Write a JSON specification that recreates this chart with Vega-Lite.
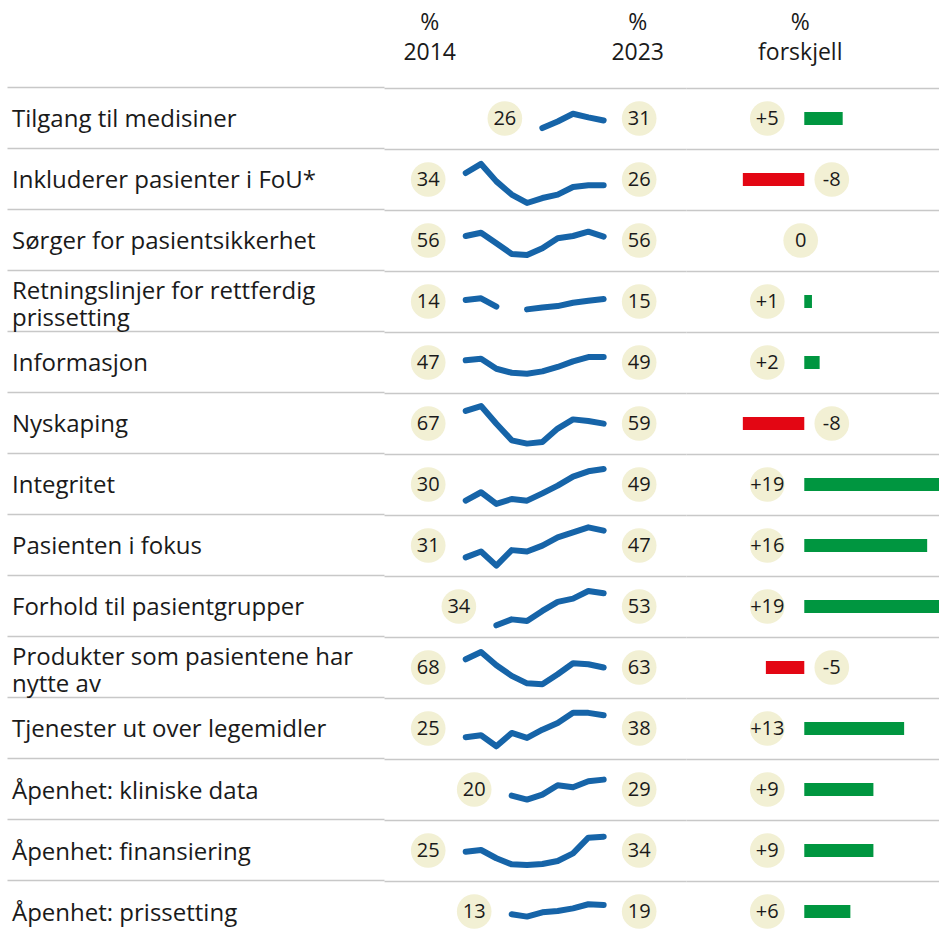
{
"$schema": "https://vega.github.io/schema/vega-lite/v6.json",
"background": "white",
"padding": {"left": 7, "right": 0, "top": 0, "bottom": 0},
"config": {"view": {"stroke": null}, "text": {"font": "Open Sans"}, "axis": {"minExtent": 0, "maxExtent": 0, "offset": 0}},
"datasets": {
"summary": [
{"id": 1, "label": "Tilgang til medisiner", "start": 2019, "v2014": 26, "v2023": 31, "diff": 5, "difflabel": "+5"},
{"id": 2, "label": "Inkluderer pasienter i FoU*", "start": 2014, "v2014": 34, "v2023": 26, "diff": -8, "difflabel": "-8"},
{"id": 3, "label": "Sørger for pasientsikkerhet", "start": 2014, "v2014": 56, "v2023": 56, "diff": 0, "difflabel": "0"},
{"id": 4, "label": "Retningslinjer for rettferdig\nprissetting", "start": 2014, "v2014": 14, "v2023": 15, "diff": 1, "difflabel": "+1"},
{"id": 5, "label": "Informasjon", "start": 2014, "v2014": 47, "v2023": 49, "diff": 2, "difflabel": "+2"},
{"id": 6, "label": "Nyskaping", "start": 2014, "v2014": 67, "v2023": 59, "diff": -8, "difflabel": "-8"},
{"id": 7, "label": "Integritet", "start": 2014, "v2014": 30, "v2023": 49, "diff": 19, "difflabel": "+19"},
{"id": 8, "label": "Pasienten i fokus", "start": 2014, "v2014": 31, "v2023": 47, "diff": 16, "difflabel": "+16"},
{"id": 9, "label": "Forhold til pasientgrupper", "start": 2016, "v2014": 34, "v2023": 53, "diff": 19, "difflabel": "+19"},
{"id": 10, "label": "Produkter som pasientene har\nnytte av", "start": 2014, "v2014": 68, "v2023": 63, "diff": -5, "difflabel": "-5"},
{"id": 11, "label": "Tjenester ut over legemidler", "start": 2014, "v2014": 25, "v2023": 38, "diff": 13, "difflabel": "+13"},
{"id": 12, "label": "Åpenhet: kliniske data", "start": 2017, "v2014": 20, "v2023": 29, "diff": 9, "difflabel": "+9"},
{"id": 13, "label": "Åpenhet: finansiering", "start": 2014, "v2014": 25, "v2023": 34, "diff": 9, "difflabel": "+9"},
{"id": 14, "label": "Åpenhet: prissetting", "start": 2017, "v2014": 13, "v2023": 19, "diff": 6, "difflabel": "+6"}
],
"spark": [
{"id":1,"year":2019,"value":26},{"id":1,"year":2020,"value":30},{"id":1,"year":2021,"value":34.7},{"id":1,"year":2022,"value":32.5},{"id":1,"year":2023,"value":30.6},
{"id":2,"year":2014,"value":34},{"id":2,"year":2015,"value":39.5},{"id":2,"year":2016,"value":28.9},{"id":2,"year":2017,"value":20.9},{"id":2,"year":2018,"value":15.8},{"id":2,"year":2019,"value":18.8},{"id":2,"year":2020,"value":20.9},{"id":2,"year":2021,"value":25.5},{"id":2,"year":2022,"value":26.5},{"id":2,"year":2023,"value":26.5},
{"id":3,"year":2014,"value":56},{"id":3,"year":2015,"value":58},{"id":3,"year":2016,"value":51.6},{"id":3,"year":2017,"value":45.1},{"id":3,"year":2018,"value":44.5},{"id":3,"year":2019,"value":48.5},{"id":3,"year":2020,"value":54.6},{"id":3,"year":2021,"value":56},{"id":3,"year":2022,"value":58.6},{"id":3,"year":2023,"value":55.6},
{"id":4,"year":2014,"value":14},{"id":4,"year":2015,"value":15},{"id":4,"year":2016,"value":10},{"id":4,"year":2017,"value":null},{"id":4,"year":2018,"value":8.3},{"id":4,"year":2019,"value":9.5},{"id":4,"year":2020,"value":10.3},{"id":4,"year":2021,"value":12.3},{"id":4,"year":2022,"value":13.5},{"id":4,"year":2023,"value":14.6},
{"id":5,"year":2014,"value":47},{"id":5,"year":2015,"value":48},{"id":5,"year":2016,"value":41.9},{"id":5,"year":2017,"value":39.5},{"id":5,"year":2018,"value":38.9},{"id":5,"year":2019,"value":40.3},{"id":5,"year":2020,"value":43},{"id":5,"year":2021,"value":46.4},{"id":5,"year":2022,"value":49},{"id":5,"year":2023,"value":49},
{"id":6,"year":2014,"value":67},{"id":6,"year":2015,"value":70},{"id":6,"year":2016,"value":59.3},{"id":6,"year":2017,"value":49.2},{"id":6,"year":2018,"value":47.2},{"id":6,"year":2019,"value":48.2},{"id":6,"year":2020,"value":56.3},{"id":6,"year":2021,"value":61.9},{"id":6,"year":2022,"value":60.9},{"id":6,"year":2023,"value":59.3},
{"id":7,"year":2014,"value":30},{"id":7,"year":2015,"value":35.1},{"id":7,"year":2016,"value":28},{"id":7,"year":2017,"value":31},{"id":7,"year":2018,"value":30},{"id":7,"year":2019,"value":34.4},{"id":7,"year":2020,"value":39.1},{"id":7,"year":2021,"value":44.6},{"id":7,"year":2022,"value":47.8},{"id":7,"year":2023,"value":49.2},
{"id":8,"year":2014,"value":31},{"id":8,"year":2015,"value":34.6},{"id":8,"year":2016,"value":26},{"id":8,"year":2017,"value":35.4},{"id":8,"year":2018,"value":34.6},{"id":8,"year":2019,"value":38.1},{"id":8,"year":2020,"value":43.1},{"id":8,"year":2021,"value":46.2},{"id":8,"year":2022,"value":49.2},{"id":8,"year":2023,"value":47.2},
{"id":9,"year":2016,"value":34},{"id":9,"year":2017,"value":37.6},{"id":9,"year":2018,"value":36.6},{"id":9,"year":2019,"value":42.7},{"id":9,"year":2020,"value":48.2},{"id":9,"year":2021,"value":50.2},{"id":9,"year":2022,"value":54.8},{"id":9,"year":2023,"value":53.4},
{"id":10,"year":2014,"value":68},{"id":10,"year":2015,"value":72.4},{"id":10,"year":2016,"value":64.4},{"id":10,"year":2017,"value":57.9},{"id":10,"year":2018,"value":53.4},{"id":10,"year":2019,"value":52.8},{"id":10,"year":2020,"value":58.9},{"id":10,"year":2021,"value":65.6},{"id":10,"year":2022,"value":65},{"id":10,"year":2023,"value":63},
{"id":11,"year":2014,"value":25},{"id":11,"year":2015,"value":26.2},{"id":11,"year":2016,"value":19.5},{"id":11,"year":2017,"value":27.6},{"id":11,"year":2018,"value":24.6},{"id":11,"year":2019,"value":29.6},{"id":11,"year":2020,"value":33.7},{"id":11,"year":2021,"value":39.8},{"id":11,"year":2022,"value":39.8},{"id":11,"year":2023,"value":38.3},
{"id":12,"year":2017,"value":20},{"id":12,"year":2018,"value":17.6},{"id":12,"year":2019,"value":20.6},{"id":12,"year":2020,"value":26.3},{"id":12,"year":2021,"value":25.1},{"id":12,"year":2022,"value":28.7},{"id":12,"year":2023,"value":29.7},
{"id":13,"year":2014,"value":25},{"id":13,"year":2015,"value":26},{"id":13,"year":2016,"value":21},{"id":13,"year":2017,"value":17.3},{"id":13,"year":2018,"value":16.9},{"id":13,"year":2019,"value":17.5},{"id":13,"year":2020,"value":19.3},{"id":13,"year":2021,"value":24},{"id":13,"year":2022,"value":33.5},{"id":13,"year":2023,"value":34.1},
{"id":14,"year":2017,"value":13},{"id":14,"year":2018,"value":11.6},{"id":14,"year":2019,"value":14.2},{"id":14,"year":2020,"value":15},{"id":14,"year":2021,"value":16.6},{"id":14,"year":2022,"value":19.1},{"id":14,"year":2023,"value":18.7}
]
},
"spacing": 0,
"hconcat": [
{
"width": 377, "height": 942,
"data": {"name": "summary"},
"encoding": {
"y": {"field": "id", "type": "ordinal", "scale": {"type": "band", "paddingInner": 0, "paddingOuter": 0.72131, "align": 1}, "axis": {"title": null, "labels": false, "ticks": false, "domain": false, "grid": true, "gridColor": "#c8c8c8", "gridWidth": 1.5, "bandPosition": 0}},
"x": {"datum": 0, "type": "quantitative", "scale": {"domain": [0, 100], "nice": false, "zero": false}, "axis": null},
"text": {"field": "label"}
},
"layer": [
{"transform": [{"filter": "indexof(datum.label, '\\n') < 0"}],
"mark": {"type": "text", "align": "left", "baseline": "middle", "font": "Open Sans", "fontSize": 24, "color": "#1a1a1a", "dx": 5, "dy": 2}},
{"transform": [{"filter": "indexof(datum.label, '\\n') >= 0"}],
"mark": {"type": "text", "align": "left", "baseline": "middle", "font": "Open Sans", "fontSize": 24, "lineBreak": "\n", "lineHeight": 27, "color": "#1a1a1a", "dx": 5, "dy": -9.5}}
]
},
{
"spacing": 0,
"bounds": "flush",
"vconcat": [
{"width": 302, "height": 88,
"data": {"values": [{"year": 2014, "head": "%\n2014"}, {"year": 2023, "head": "%\n2023"}]},
"layer": [
{"transform": [{"filter": "datum.year == 2014"}], "mark": {"type": "text", "fontSize": 23, "lineBreak": "\n", "lineHeight": 30, "baseline": "middle", "color": "#1a1a1a", "xOffset": -36, "dy": -21},
"encoding": {"x": {"field": "year", "type": "quantitative", "scale": {"domain": [2008.67, 2028.37], "nice": false, "zero": false}, "axis": null}, "text": {"field": "head"}}},
{"transform": [{"filter": "datum.year == 2023"}], "mark": {"type": "text", "fontSize": 23, "lineBreak": "\n", "lineHeight": 30, "baseline": "middle", "color": "#1a1a1a", "xOffset": 34, "dy": -21},
"encoding": {"x": {"field": "year", "type": "quantitative"}, "text": {"field": "head"}}}
]},
{"width":302,"height":61,"layer":[{"data":{"name":"spark"},"transform":[{"filter":"datum.id==1"}],"mark":{"type":"line","color":"#1664a8","strokeWidth":6,"strokeCap":"round","strokeJoin":"round","invalid":"break-paths-show-domains"},"encoding":{"x":{"field":"year","type":"quantitative","scale":{"domain":[2008.67,2028.37],"nice":false,"zero":false},"axis":{"orient":"top","labels":false,"ticks":false,"grid":false,"title":null,"domainColor":"#c8c8c8","domainWidth":1.5}},"y":{"field":"value","type":"quantitative","scale":{"domain":[13.3,50.3],"nice":false,"zero":false},"axis":null}}},{"data":{"name":"summary"},"transform":[{"filter":"datum.id==1"}],"layer":[{"mark":{"type":"circle","size":1200,"color":"#f2f0d4","opacity":1,"xOffset":-37.5},"encoding":{"x":{"field":"start","type":"quantitative"}}},{"mark":{"type":"text","fontSize":20,"color":"#1a1a1a","xOffset":-37.5,"baseline":"middle"},"encoding":{"x":{"field":"start","type":"quantitative"},"text":{"field":"v2014"}}},{"mark":{"type":"circle","size":1200,"color":"#f2f0d4","opacity":1,"xOffset":35.5},"encoding":{"x":{"datum":2023,"type":"quantitative"}}},{"mark":{"type":"text","fontSize":20,"color":"#1a1a1a","xOffset":35.5,"baseline":"middle"},"encoding":{"x":{"datum":2023,"type":"quantitative"},"text":{"field":"v2023"}}}]}]},
{"width":302,"height":61,"layer":[{"data":{"name":"spark"},"transform":[{"filter":"datum.id==2"}],"mark":{"type":"line","color":"#1664a8","strokeWidth":6,"strokeCap":"round","strokeJoin":"round","invalid":"break-paths-show-domains"},"encoding":{"x":{"field":"year","type":"quantitative","scale":{"domain":[2008.67,2028.37],"nice":false,"zero":false},"axis":{"orient":"top","labels":false,"ticks":false,"grid":false,"title":null,"domainColor":"#c8c8c8","domainWidth":1.5}},"y":{"field":"value","type":"quantitative","scale":{"domain":[11.55,48.55],"nice":false,"zero":false},"axis":null}}},{"data":{"name":"summary"},"transform":[{"filter":"datum.id==2"}],"layer":[{"mark":{"type":"circle","size":1200,"color":"#f2f0d4","opacity":1,"xOffset":-37.5},"encoding":{"x":{"field":"start","type":"quantitative"}}},{"mark":{"type":"text","fontSize":20,"color":"#1a1a1a","xOffset":-37.5,"baseline":"middle"},"encoding":{"x":{"field":"start","type":"quantitative"},"text":{"field":"v2014"}}},{"mark":{"type":"circle","size":1200,"color":"#f2f0d4","opacity":1,"xOffset":35.5},"encoding":{"x":{"datum":2023,"type":"quantitative"}}},{"mark":{"type":"text","fontSize":20,"color":"#1a1a1a","xOffset":35.5,"baseline":"middle"},"encoding":{"x":{"datum":2023,"type":"quantitative"},"text":{"field":"v2023"}}}]}]},
{"width":302,"height":61,"layer":[{"data":{"name":"spark"},"transform":[{"filter":"datum.id==3"}],"mark":{"type":"line","color":"#1664a8","strokeWidth":6,"strokeCap":"round","strokeJoin":"round","invalid":"break-paths-show-domains"},"encoding":{"x":{"field":"year","type":"quantitative","scale":{"domain":[2008.67,2028.37],"nice":false,"zero":false},"axis":{"orient":"top","labels":false,"ticks":false,"grid":false,"title":null,"domainColor":"#c8c8c8","domainWidth":1.5}},"y":{"field":"value","type":"quantitative","scale":{"domain":[34.77,71.77],"nice":false,"zero":false},"axis":null}}},{"data":{"name":"summary"},"transform":[{"filter":"datum.id==3"}],"layer":[{"mark":{"type":"circle","size":1200,"color":"#f2f0d4","opacity":1,"xOffset":-37.5},"encoding":{"x":{"field":"start","type":"quantitative"}}},{"mark":{"type":"text","fontSize":20,"color":"#1a1a1a","xOffset":-37.5,"baseline":"middle"},"encoding":{"x":{"field":"start","type":"quantitative"},"text":{"field":"v2014"}}},{"mark":{"type":"circle","size":1200,"color":"#f2f0d4","opacity":1,"xOffset":35.5},"encoding":{"x":{"datum":2023,"type":"quantitative"}}},{"mark":{"type":"text","fontSize":20,"color":"#1a1a1a","xOffset":35.5,"baseline":"middle"},"encoding":{"x":{"datum":2023,"type":"quantitative"},"text":{"field":"v2023"}}}]}]},
{"width":302,"height":61,"layer":[{"data":{"name":"spark"},"transform":[{"filter":"datum.id==4"}],"mark":{"type":"line","color":"#1664a8","strokeWidth":6,"strokeCap":"round","strokeJoin":"round","invalid":"break-paths-show-domains"},"encoding":{"x":{"field":"year","type":"quantitative","scale":{"domain":[2008.67,2028.37],"nice":false,"zero":false},"axis":{"orient":"top","labels":false,"ticks":false,"grid":false,"title":null,"domainColor":"#c8c8c8","domainWidth":1.5}},"y":{"field":"value","type":"quantitative","scale":{"domain":[-5.41,31.59],"nice":false,"zero":false},"axis":null}}},{"data":{"name":"summary"},"transform":[{"filter":"datum.id==4"}],"layer":[{"mark":{"type":"circle","size":1200,"color":"#f2f0d4","opacity":1,"xOffset":-37.5},"encoding":{"x":{"field":"start","type":"quantitative"}}},{"mark":{"type":"text","fontSize":20,"color":"#1a1a1a","xOffset":-37.5,"baseline":"middle"},"encoding":{"x":{"field":"start","type":"quantitative"},"text":{"field":"v2014"}}},{"mark":{"type":"circle","size":1200,"color":"#f2f0d4","opacity":1,"xOffset":35.5},"encoding":{"x":{"datum":2023,"type":"quantitative"}}},{"mark":{"type":"text","fontSize":20,"color":"#1a1a1a","xOffset":35.5,"baseline":"middle"},"encoding":{"x":{"datum":2023,"type":"quantitative"},"text":{"field":"v2023"}}}]}]},
{"width":302,"height":61,"layer":[{"data":{"name":"spark"},"transform":[{"filter":"datum.id==5"}],"mark":{"type":"line","color":"#1664a8","strokeWidth":6,"strokeCap":"round","strokeJoin":"round","invalid":"break-paths-show-domains"},"encoding":{"x":{"field":"year","type":"quantitative","scale":{"domain":[2008.67,2028.37],"nice":false,"zero":false},"axis":{"orient":"top","labels":false,"ticks":false,"grid":false,"title":null,"domainColor":"#c8c8c8","domainWidth":1.5}},"y":{"field":"value","type":"quantitative","scale":{"domain":[27.2,64.2],"nice":false,"zero":false},"axis":null}}},{"data":{"name":"summary"},"transform":[{"filter":"datum.id==5"}],"layer":[{"mark":{"type":"circle","size":1200,"color":"#f2f0d4","opacity":1,"xOffset":-37.5},"encoding":{"x":{"field":"start","type":"quantitative"}}},{"mark":{"type":"text","fontSize":20,"color":"#1a1a1a","xOffset":-37.5,"baseline":"middle"},"encoding":{"x":{"field":"start","type":"quantitative"},"text":{"field":"v2014"}}},{"mark":{"type":"circle","size":1200,"color":"#f2f0d4","opacity":1,"xOffset":35.5},"encoding":{"x":{"datum":2023,"type":"quantitative"}}},{"mark":{"type":"text","fontSize":20,"color":"#1a1a1a","xOffset":35.5,"baseline":"middle"},"encoding":{"x":{"datum":2023,"type":"quantitative"},"text":{"field":"v2023"}}}]}]},
{"width":302,"height":61,"layer":[{"data":{"name":"spark"},"transform":[{"filter":"datum.id==6"}],"mark":{"type":"line","color":"#1664a8","strokeWidth":6,"strokeCap":"round","strokeJoin":"round","invalid":"break-paths-show-domains"},"encoding":{"x":{"field":"year","type":"quantitative","scale":{"domain":[2008.67,2028.37],"nice":false,"zero":false},"axis":{"orient":"top","labels":false,"ticks":false,"grid":false,"title":null,"domainColor":"#c8c8c8","domainWidth":1.5}},"y":{"field":"value","type":"quantitative","scale":{"domain":[40.9,77.9],"nice":false,"zero":false},"axis":null}}},{"data":{"name":"summary"},"transform":[{"filter":"datum.id==6"}],"layer":[{"mark":{"type":"circle","size":1200,"color":"#f2f0d4","opacity":1,"xOffset":-37.5},"encoding":{"x":{"field":"start","type":"quantitative"}}},{"mark":{"type":"text","fontSize":20,"color":"#1a1a1a","xOffset":-37.5,"baseline":"middle"},"encoding":{"x":{"field":"start","type":"quantitative"},"text":{"field":"v2014"}}},{"mark":{"type":"circle","size":1200,"color":"#f2f0d4","opacity":1,"xOffset":35.5},"encoding":{"x":{"datum":2023,"type":"quantitative"}}},{"mark":{"type":"text","fontSize":20,"color":"#1a1a1a","xOffset":35.5,"baseline":"middle"},"encoding":{"x":{"datum":2023,"type":"quantitative"},"text":{"field":"v2023"}}}]}]},
{"width":302,"height":61,"layer":[{"data":{"name":"spark"},"transform":[{"filter":"datum.id==7"}],"mark":{"type":"line","color":"#1664a8","strokeWidth":6,"strokeCap":"round","strokeJoin":"round","invalid":"break-paths-show-domains"},"encoding":{"x":{"field":"year","type":"quantitative","scale":{"domain":[2008.67,2028.37],"nice":false,"zero":false},"axis":{"orient":"top","labels":false,"ticks":false,"grid":false,"title":null,"domainColor":"#c8c8c8","domainWidth":1.5}},"y":{"field":"value","type":"quantitative","scale":{"domain":[21.3,58.3],"nice":false,"zero":false},"axis":null}}},{"data":{"name":"summary"},"transform":[{"filter":"datum.id==7"}],"layer":[{"mark":{"type":"circle","size":1200,"color":"#f2f0d4","opacity":1,"xOffset":-37.5},"encoding":{"x":{"field":"start","type":"quantitative"}}},{"mark":{"type":"text","fontSize":20,"color":"#1a1a1a","xOffset":-37.5,"baseline":"middle"},"encoding":{"x":{"field":"start","type":"quantitative"},"text":{"field":"v2014"}}},{"mark":{"type":"circle","size":1200,"color":"#f2f0d4","opacity":1,"xOffset":35.5},"encoding":{"x":{"datum":2023,"type":"quantitative"}}},{"mark":{"type":"text","fontSize":20,"color":"#1a1a1a","xOffset":35.5,"baseline":"middle"},"encoding":{"x":{"datum":2023,"type":"quantitative"},"text":{"field":"v2023"}}}]}]},
{"width":302,"height":61,"layer":[{"data":{"name":"spark"},"transform":[{"filter":"datum.id==8"}],"mark":{"type":"line","color":"#1664a8","strokeWidth":6,"strokeCap":"round","strokeJoin":"round","invalid":"break-paths-show-domains"},"encoding":{"x":{"field":"year","type":"quantitative","scale":{"domain":[2008.67,2028.37],"nice":false,"zero":false},"axis":{"orient":"top","labels":false,"ticks":false,"grid":false,"title":null,"domainColor":"#c8c8c8","domainWidth":1.5}},"y":{"field":"value","type":"quantitative","scale":{"domain":[19.7,56.7],"nice":false,"zero":false},"axis":null}}},{"data":{"name":"summary"},"transform":[{"filter":"datum.id==8"}],"layer":[{"mark":{"type":"circle","size":1200,"color":"#f2f0d4","opacity":1,"xOffset":-37.5},"encoding":{"x":{"field":"start","type":"quantitative"}}},{"mark":{"type":"text","fontSize":20,"color":"#1a1a1a","xOffset":-37.5,"baseline":"middle"},"encoding":{"x":{"field":"start","type":"quantitative"},"text":{"field":"v2014"}}},{"mark":{"type":"circle","size":1200,"color":"#f2f0d4","opacity":1,"xOffset":35.5},"encoding":{"x":{"datum":2023,"type":"quantitative"}}},{"mark":{"type":"text","fontSize":20,"color":"#1a1a1a","xOffset":35.5,"baseline":"middle"},"encoding":{"x":{"datum":2023,"type":"quantitative"},"text":{"field":"v2023"}}}]}]},
{"width":302,"height":61,"layer":[{"data":{"name":"spark"},"transform":[{"filter":"datum.id==9"}],"mark":{"type":"line","color":"#1664a8","strokeWidth":6,"strokeCap":"round","strokeJoin":"round","invalid":"break-paths-show-domains"},"encoding":{"x":{"field":"year","type":"quantitative","scale":{"domain":[2008.67,2028.37],"nice":false,"zero":false},"axis":{"orient":"top","labels":false,"ticks":false,"grid":false,"title":null,"domainColor":"#c8c8c8","domainWidth":1.5}},"y":{"field":"value","type":"quantitative","scale":{"domain":[26.9,63.9],"nice":false,"zero":false},"axis":null}}},{"data":{"name":"summary"},"transform":[{"filter":"datum.id==9"}],"layer":[{"mark":{"type":"circle","size":1200,"color":"#f2f0d4","opacity":1,"xOffset":-37.5},"encoding":{"x":{"field":"start","type":"quantitative"}}},{"mark":{"type":"text","fontSize":20,"color":"#1a1a1a","xOffset":-37.5,"baseline":"middle"},"encoding":{"x":{"field":"start","type":"quantitative"},"text":{"field":"v2014"}}},{"mark":{"type":"circle","size":1200,"color":"#f2f0d4","opacity":1,"xOffset":35.5},"encoding":{"x":{"datum":2023,"type":"quantitative"}}},{"mark":{"type":"text","fontSize":20,"color":"#1a1a1a","xOffset":35.5,"baseline":"middle"},"encoding":{"x":{"datum":2023,"type":"quantitative"},"text":{"field":"v2023"}}}]}]},
{"width":302,"height":61,"layer":[{"data":{"name":"spark"},"transform":[{"filter":"datum.id==10"}],"mark":{"type":"line","color":"#1664a8","strokeWidth":6,"strokeCap":"round","strokeJoin":"round","invalid":"break-paths-show-domains"},"encoding":{"x":{"field":"year","type":"quantitative","scale":{"domain":[2008.67,2028.37],"nice":false,"zero":false},"axis":{"orient":"top","labels":false,"ticks":false,"grid":false,"title":null,"domainColor":"#c8c8c8","domainWidth":1.5}},"y":{"field":"value","type":"quantitative","scale":{"domain":[44.5,81.5],"nice":false,"zero":false},"axis":null}}},{"data":{"name":"summary"},"transform":[{"filter":"datum.id==10"}],"layer":[{"mark":{"type":"circle","size":1200,"color":"#f2f0d4","opacity":1,"xOffset":-37.5},"encoding":{"x":{"field":"start","type":"quantitative"}}},{"mark":{"type":"text","fontSize":20,"color":"#1a1a1a","xOffset":-37.5,"baseline":"middle"},"encoding":{"x":{"field":"start","type":"quantitative"},"text":{"field":"v2014"}}},{"mark":{"type":"circle","size":1200,"color":"#f2f0d4","opacity":1,"xOffset":35.5},"encoding":{"x":{"datum":2023,"type":"quantitative"}}},{"mark":{"type":"text","fontSize":20,"color":"#1a1a1a","xOffset":35.5,"baseline":"middle"},"encoding":{"x":{"datum":2023,"type":"quantitative"},"text":{"field":"v2023"}}}]}]},
{"width":302,"height":61,"layer":[{"data":{"name":"spark"},"transform":[{"filter":"datum.id==11"}],"mark":{"type":"line","color":"#1664a8","strokeWidth":6,"strokeCap":"round","strokeJoin":"round","invalid":"break-paths-show-domains"},"encoding":{"x":{"field":"year","type":"quantitative","scale":{"domain":[2008.67,2028.37],"nice":false,"zero":false},"axis":{"orient":"top","labels":false,"ticks":false,"grid":false,"title":null,"domainColor":"#c8c8c8","domainWidth":1.5}},"y":{"field":"value","type":"quantitative","scale":{"domain":[11.8,48.8],"nice":false,"zero":false},"axis":null}}},{"data":{"name":"summary"},"transform":[{"filter":"datum.id==11"}],"layer":[{"mark":{"type":"circle","size":1200,"color":"#f2f0d4","opacity":1,"xOffset":-37.5},"encoding":{"x":{"field":"start","type":"quantitative"}}},{"mark":{"type":"text","fontSize":20,"color":"#1a1a1a","xOffset":-37.5,"baseline":"middle"},"encoding":{"x":{"field":"start","type":"quantitative"},"text":{"field":"v2014"}}},{"mark":{"type":"circle","size":1200,"color":"#f2f0d4","opacity":1,"xOffset":35.5},"encoding":{"x":{"datum":2023,"type":"quantitative"}}},{"mark":{"type":"text","fontSize":20,"color":"#1a1a1a","xOffset":35.5,"baseline":"middle"},"encoding":{"x":{"datum":2023,"type":"quantitative"},"text":{"field":"v2023"}}}]}]},
{"width":302,"height":61,"layer":[{"data":{"name":"spark"},"transform":[{"filter":"datum.id==12"}],"mark":{"type":"line","color":"#1664a8","strokeWidth":6,"strokeCap":"round","strokeJoin":"round","invalid":"break-paths-show-domains"},"encoding":{"x":{"field":"year","type":"quantitative","scale":{"domain":[2008.67,2028.37],"nice":false,"zero":false},"axis":{"orient":"top","labels":false,"ticks":false,"grid":false,"title":null,"domainColor":"#c8c8c8","domainWidth":1.5}},"y":{"field":"value","type":"quantitative","scale":{"domain":[5.2,42.2],"nice":false,"zero":false},"axis":null}}},{"data":{"name":"summary"},"transform":[{"filter":"datum.id==12"}],"layer":[{"mark":{"type":"circle","size":1200,"color":"#f2f0d4","opacity":1,"xOffset":-37.5},"encoding":{"x":{"field":"start","type":"quantitative"}}},{"mark":{"type":"text","fontSize":20,"color":"#1a1a1a","xOffset":-37.5,"baseline":"middle"},"encoding":{"x":{"field":"start","type":"quantitative"},"text":{"field":"v2014"}}},{"mark":{"type":"circle","size":1200,"color":"#f2f0d4","opacity":1,"xOffset":35.5},"encoding":{"x":{"datum":2023,"type":"quantitative"}}},{"mark":{"type":"text","fontSize":20,"color":"#1a1a1a","xOffset":35.5,"baseline":"middle"},"encoding":{"x":{"datum":2023,"type":"quantitative"},"text":{"field":"v2023"}}}]}]},
{"width":302,"height":61,"layer":[{"data":{"name":"spark"},"transform":[{"filter":"datum.id==13"}],"mark":{"type":"line","color":"#1664a8","strokeWidth":6,"strokeCap":"round","strokeJoin":"round","invalid":"break-paths-show-domains"},"encoding":{"x":{"field":"year","type":"quantitative","scale":{"domain":[2008.67,2028.37],"nice":false,"zero":false},"axis":{"orient":"top","labels":false,"ticks":false,"grid":false,"title":null,"domainColor":"#c8c8c8","domainWidth":1.5}},"y":{"field":"value","type":"quantitative","scale":{"domain":[7.2,44.2],"nice":false,"zero":false},"axis":null}}},{"data":{"name":"summary"},"transform":[{"filter":"datum.id==13"}],"layer":[{"mark":{"type":"circle","size":1200,"color":"#f2f0d4","opacity":1,"xOffset":-37.5},"encoding":{"x":{"field":"start","type":"quantitative"}}},{"mark":{"type":"text","fontSize":20,"color":"#1a1a1a","xOffset":-37.5,"baseline":"middle"},"encoding":{"x":{"field":"start","type":"quantitative"},"text":{"field":"v2014"}}},{"mark":{"type":"circle","size":1200,"color":"#f2f0d4","opacity":1,"xOffset":35.5},"encoding":{"x":{"datum":2023,"type":"quantitative"}}},{"mark":{"type":"text","fontSize":20,"color":"#1a1a1a","xOffset":35.5,"baseline":"middle"},"encoding":{"x":{"datum":2023,"type":"quantitative"},"text":{"field":"v2023"}}}]}]},
{"width":302,"height":61,"layer":[{"data":{"name":"spark"},"transform":[{"filter":"datum.id==14"}],"mark":{"type":"line","color":"#1664a8","strokeWidth":6,"strokeCap":"round","strokeJoin":"round","invalid":"break-paths-show-domains"},"encoding":{"x":{"field":"year","type":"quantitative","scale":{"domain":[2008.67,2028.37],"nice":false,"zero":false},"axis":{"orient":"top","labels":false,"ticks":false,"grid":false,"title":null,"domainColor":"#c8c8c8","domainWidth":1.5}},"y":{"field":"value","type":"quantitative","scale":{"domain":[-3.8,33.2],"nice":false,"zero":false},"axis":null}}},{"data":{"name":"summary"},"transform":[{"filter":"datum.id==14"}],"layer":[{"mark":{"type":"circle","size":1200,"color":"#f2f0d4","opacity":1,"xOffset":-37.5},"encoding":{"x":{"field":"start","type":"quantitative"}}},{"mark":{"type":"text","fontSize":20,"color":"#1a1a1a","xOffset":-37.5,"baseline":"middle"},"encoding":{"x":{"field":"start","type":"quantitative"},"text":{"field":"v2014"}}},{"mark":{"type":"circle","size":1200,"color":"#f2f0d4","opacity":1,"xOffset":35.5},"encoding":{"x":{"datum":2023,"type":"quantitative"}}},{"mark":{"type":"text","fontSize":20,"color":"#1a1a1a","xOffset":35.5,"baseline":"middle"},"encoding":{"x":{"datum":2023,"type":"quantitative"},"text":{"field":"v2023"}}}]}]}
]
},
{
"spacing": 0,
"bounds": "flush",
"vconcat": [
{"width": 253, "height": 88,
"data": {"values": [{"d": 0, "head": "%\nforskjell"}]},
"mark": {"type": "text", "fontSize": 23, "lineBreak": "\n", "lineHeight": 30, "baseline": "middle", "color": "#1a1a1a", "xOffset": -4, "dy": -21},
"encoding": {"x": {"field": "d", "type": "quantitative", "scale": {"domain": [-15.4, 17.54], "nice": false, "zero": false}, "axis": null}, "text": {"field": "head"}}},
{"width": 253, "height": 854,
"data": {"name": "summary"},
"encoding": {"y": {"field": "id", "type": "ordinal", "scale": {"type": "band", "paddingInner": 0, "paddingOuter": 0}, "axis": {"title": null, "labels": false, "ticks": false, "domain": false, "grid": true, "gridColor": "#c8c8c8", "gridWidth": 1.5, "bandPosition": 0}}},
"layer": [
{"mark": {"type": "bar", "size": 13, "clip": true},
"encoding": {"x": {"field": "diff", "type": "quantitative", "scale": {"domain": [-15.4, 17.54], "nice": false, "zero": false}, "axis": null}, "x2": {"datum": 0}, "color": {"condition": {"test": "datum.diff < 0", "value": "#e30613"}, "value": "#009640"}}},
{"transform": [{"filter": "datum.diff > 0"}], "layer": [
{"mark": {"type": "circle", "size": 1200, "color": "#f2f0d4", "opacity": 1, "xOffset": -37}, "encoding": {"x": {"datum": 0, "type": "quantitative"}}},
{"mark": {"type": "text", "fontSize": 20, "color": "#1a1a1a", "baseline": "middle", "xOffset": -37}, "encoding": {"x": {"datum": 0, "type": "quantitative"}, "text": {"field": "difflabel"}}}
]},
{"transform": [{"filter": "datum.diff < 0"}], "layer": [
{"mark": {"type": "circle", "size": 1200, "color": "#f2f0d4", "opacity": 1, "xOffset": 27.5}, "encoding": {"x": {"datum": 0, "type": "quantitative"}}},
{"mark": {"type": "text", "fontSize": 20, "color": "#1a1a1a", "baseline": "middle", "xOffset": 27.5}, "encoding": {"x": {"datum": 0, "type": "quantitative"}, "text": {"field": "difflabel"}}}
]},
{"transform": [{"filter": "datum.diff == 0"}], "layer": [
{"mark": {"type": "circle", "size": 1200, "color": "#f2f0d4", "opacity": 1, "xOffset": -3.6}, "encoding": {"x": {"datum": 0, "type": "quantitative"}}},
{"mark": {"type": "text", "fontSize": 20, "color": "#1a1a1a", "baseline": "middle", "xOffset": -3.6}, "encoding": {"x": {"datum": 0, "type": "quantitative"}, "text": {"field": "difflabel"}}}
]}
]}
]
}
]
}
